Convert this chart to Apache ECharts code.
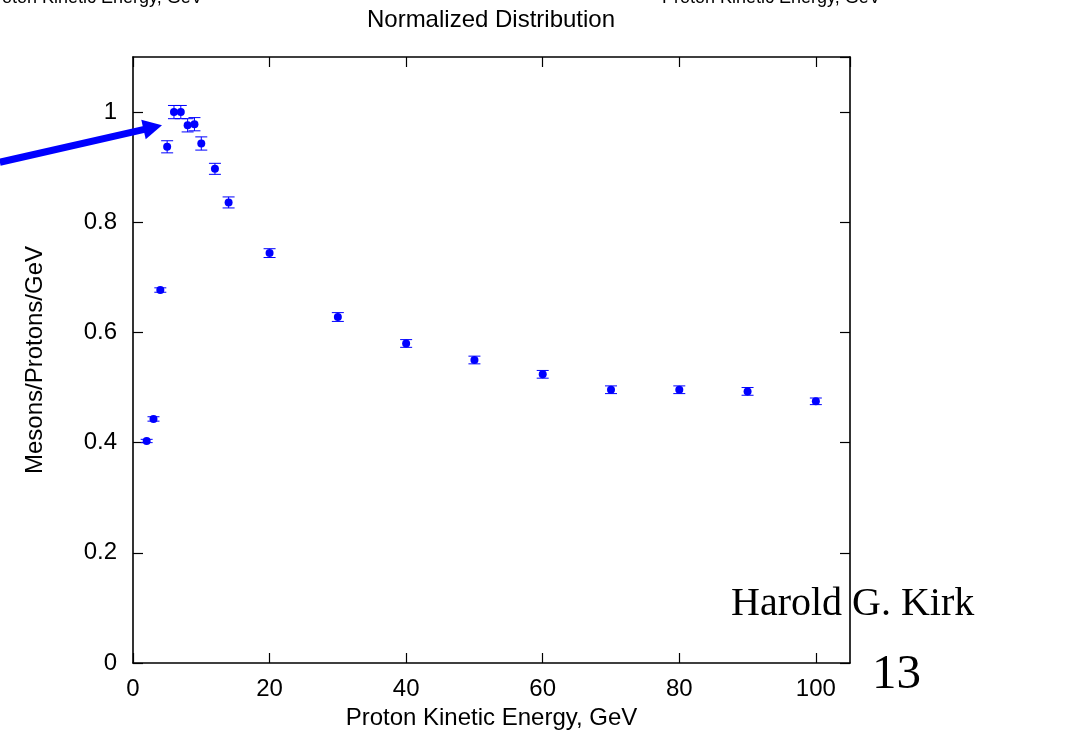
<!DOCTYPE html>
<html>
<head>
<meta charset="utf-8">
<script src="https://cdn.jsdelivr.net/npm/echarts@6/dist/echarts.min.js"></script>
<style>html,body{margin:0;padding:0;background:#fff;}#c{width:1065px;height:739px;}</style>
</head>
<body>
<div id="c"></div>
<script>
const energies = [2, 3, 4, 5, 6, 7, 8, 9, 10, 12, 14, 20, 30, 40, 50, 60, 70, 80, 90, 100];
const mesons   = [0.403, 0.443, 0.677, 0.937, 1.0, 1.0, 0.976, 0.978, 0.943, 0.897, 0.836, 0.744, 0.628, 0.580, 0.550, 0.524, 0.496, 0.496, 0.493, 0.475];
const errors   = [0.003, 0.004, 0.004, 0.011, 0.012, 0.012, 0.012, 0.012, 0.012, 0.010, 0.010, 0.008, 0.008, 0.007, 0.007, 0.007, 0.007, 0.007, 0.007, 0.006];
const xTicks = [0, 20, 40, 60, 80, 100];
const yTicks = [0, 0.2, 0.4, 0.6, 0.8, 1];

const chart = echarts.init(document.getElementById('c'));
const pts = energies.map((e, i) => [e, mesons[i]]);
const errData = energies.map((e, i) => [e, mesons[i] - errors[i], mesons[i] + errors[i]]);
const FONT = 'Liberation Sans, Arial, sans-serif';
const SERIF = 'Liberation Serif, Times New Roman, serif';
function axisBase(extra) {
  return Object.assign({
    type: 'value', min: 0,
    axisLine: { show: true, onZero: false, lineStyle: { color: '#000', width: 1.6 } },
    axisTick: { show: true, inside: true, length: 10, lineStyle: { color: '#000', width: 1.2 } },
    splitLine: { show: false },
    axisLabel: { show: false }
  }, extra);
}
chart.setOption({
  animation: false,
  backgroundColor: '#fff',
  grid: { left: 133, right: 215, top: 57, bottom: 76 },
  xAxis: [
    axisBase({
      max: 105, interval: 20, position: 'bottom',
      name: 'Proton Kinetic Energy, GeV', nameLocation: 'middle', nameGap: 42,
      nameTextStyle: { fontFamily: FONT, fontSize: 24, color: '#000' },
      axisLabel: { show: true, fontFamily: FONT, fontSize: 24, color: '#000', margin: 14, showMaxLabel: false,
        formatter: v => xTicks.includes(v) ? String(v) : '' }
    }),
    axisBase({ max: 105, interval: 20, position: 'top' })
  ],
  yAxis: [
    axisBase({
      max: 1.1, interval: 0.2, position: 'left',
      name: 'Mesons/Protons/GeV', nameLocation: 'middle', nameGap: 86,
      nameTextStyle: { fontFamily: FONT, fontSize: 24, color: '#000' },
      axisLabel: { show: true, fontFamily: FONT, fontSize: 24, color: '#000', margin: 16, showMaxLabel: false,
        formatter: v => { const t = yTicks.find(y => Math.abs(y - v) < 1e-9); return t === undefined ? '' : String(t); } }
    }),
    axisBase({ max: 1.1, interval: 0.2, position: 'right' })
  ],
  series: [
    {
      type: 'custom', xAxisIndex: 0, yAxisIndex: 0, data: errData, z: 2,
      renderItem: function (params, api) {
        const x = api.value(0);
        const lo = api.coord([x, api.value(1)]);
        const hi = api.coord([x, api.value(2)]);
        const w = 6;
        const st = { stroke: '#0000ff', lineWidth: 1 };
        return { type: 'group', children: [
          { type: 'line', shape: { x1: lo[0], y1: lo[1], x2: hi[0], y2: hi[1] }, style: st },
          { type: 'line', shape: { x1: lo[0] - w, y1: lo[1], x2: lo[0] + w, y2: lo[1] }, style: st },
          { type: 'line', shape: { x1: hi[0] - w, y1: hi[1], x2: hi[0] + w, y2: hi[1] }, style: st }
        ]};
      }
    },
    {
      type: 'scatter', xAxisIndex: 0, yAxisIndex: 0, data: pts, symbol: 'circle', symbolSize: 8, z: 3,
      itemStyle: { color: '#0000ff', opacity: 1 }
    }
  ]
});

// Arrow annotation, placed from data coordinates
const tip = chart.convertToPixel({ xAxisIndex: 0, yAxisIndex: 0 }, [4.25, 0.976]);
const tail = chart.convertToPixel({ xAxisIndex: 0, yAxisIndex: 0 }, [-19.5, 0.909]);
const dx = tip[0] - tail[0], dy = tip[1] - tail[1];
const L = Math.sqrt(dx * dx + dy * dy);
const ux = dx / L, uy = dy / L;
const hl = 19, hw = 10;
const bx = tip[0] - ux * hl, by = tip[1] - uy * hl;
chart.setOption({
  graphic: [
    { type: 'line', shape: { x1: tail[0], y1: tail[1], x2: bx + ux * 2, y2: by + uy * 2 }, style: { stroke: '#0000ff', lineWidth: 7 }, z: 10 },
    { type: 'polygon', shape: { points: [[tip[0], tip[1]], [bx - uy * hw, by + ux * hw], [bx + uy * hw, by - ux * hw]] }, style: { fill: '#0000ff' }, z: 10 },
    { type: 'text', x: 491, y: 8, style: { text: 'Normalized Distribution', font: '24px ' + FONT, fill: '#000', textAlign: 'center' } },
    { type: 'text', x: -16, y: -11, style: { text: 'Proton Kinetic Energy, GeV', font: '18px ' + FONT, fill: '#000' } },
    { type: 'text', x: 662, y: -11, style: { text: 'Proton Kinetic Energy, GeV', font: '18px ' + FONT, fill: '#000' } },
    { type: 'text', x: 731, y: 584, style: { text: 'Harold G. Kirk', font: '40px ' + SERIF, fill: '#000' } },
    { type: 'text', x: 872, y: 651, style: { text: '13', font: '49px ' + SERIF, fill: '#000' } }
  ]
});
</script>
</body>
</html>
